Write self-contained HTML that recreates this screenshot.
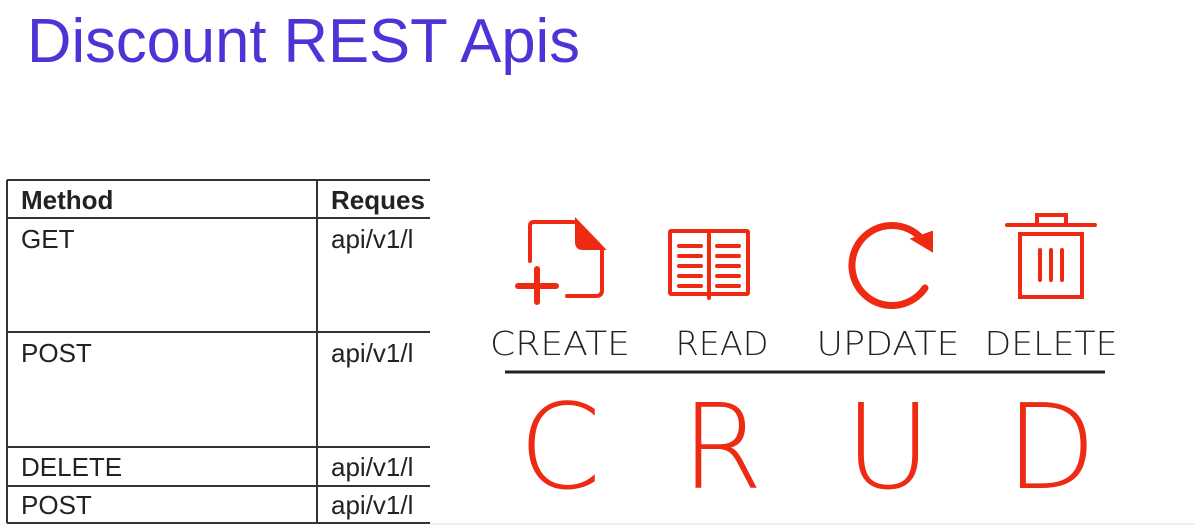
<!DOCTYPE html>
<html><head><meta charset="utf-8"><style>
html,body{margin:0;padding:0;background:#fff;width:1195px;height:531px;overflow:hidden}
</style></head><body>
<svg width="1195" height="531" viewBox="0 0 1195 531" xmlns="http://www.w3.org/2000/svg">
<rect width="1195" height="531" fill="#fff"/>
<text x="27" y="62" font-family="Liberation Sans, sans-serif" font-size="62" fill="#4f33d6" textLength="553" lengthAdjust="spacingAndGlyphs">Discount REST Apis</text>
<g stroke="#333" stroke-width="2" fill="none">
<line x1="7" y1="180" x2="430" y2="180"/>
<line x1="7" y1="218" x2="430" y2="218"/>
<line x1="7" y1="332" x2="430" y2="332"/>
<line x1="7" y1="447" x2="430" y2="447"/>
<line x1="7" y1="486" x2="430" y2="486"/>
<line x1="7" y1="523" x2="430" y2="523"/>
<line x1="7" y1="180" x2="7" y2="523"/>
<line x1="317" y1="180" x2="317" y2="523"/>
</g>
<g font-family="Liberation Sans, sans-serif" font-size="26" fill="#222">
<text x="21" y="209" font-weight="bold">Method</text>
<text x="331" y="209" font-weight="bold">Reques</text>
<text x="21" y="248">GET</text>
<text x="331" y="248">api/v1/l</text>
<text x="21" y="362">POST</text>
<text x="331" y="362">api/v1/l</text>
<text x="21" y="476">DELETE</text>
<text x="331" y="476">api/v1/l</text>
<text x="21" y="514">POST</text>
<text x="331" y="514">api/v1/l</text>
</g>
<rect x="430" y="170" width="765" height="353" fill="#fff"/>
<line x1="430" y1="524" x2="1195" y2="524" stroke="#ddd" stroke-width="1"/>
<g stroke="#ee2a12" stroke-width="4" fill="none" stroke-linecap="round">
<path d="M530 261 V226 q0-4 4-4 H577 L602 248 V290 q0 6-6 6 H567"/>
<path d="M577 222 V242 q0 6 6 6 H602 Z" fill="#ee2a12"/>
<path d="M518 286 H556 M537 269 V302" stroke-width="6"/>
<rect x="670" y="231" width="78" height="63" rx="1"/>
<line x1="709" y1="234" x2="709" y2="298"/>
<path d="M679 246 H701 M679 256 H701 M679 266 H701 M679 276 H701 M679 286 H701 M717 246 H739 M717 256 H739 M717 266 H739 M717 276 H739 M717 286 H739" stroke-width="4"/>
<path d="M925 288 A40 40 0 1 1 921 238" stroke-width="7"/>
<path d="M912 239 L932 232 L932 251 Z" fill="#ee2a12" stroke-width="2"/>
<path d="M1007 225 H1095 M1037 225 V215 H1066 V225"/>
<rect x="1020" y="234" width="62" height="63"/>
<path d="M1040 250 V280 M1051 250 V280 M1062 250 V280"/>
</g>
<g font-family="DejaVu Sans, Liberation Sans, sans-serif" font-weight="200" font-size="33" fill="#222" text-anchor="middle">
<text x="560" y="355" textLength="140" lengthAdjust="spacingAndGlyphs">CREATE</text>
<text x="722" y="355" textLength="93" lengthAdjust="spacingAndGlyphs">READ</text>
<text x="888" y="355" textLength="143" lengthAdjust="spacingAndGlyphs">UPDATE</text>
<text x="1051" y="355" textLength="133" lengthAdjust="spacingAndGlyphs">DELETE</text>
</g>
<line x1="505" y1="372" x2="1105" y2="372" stroke="#222" stroke-width="3"/>
<g font-family="DejaVu Sans, Liberation Sans, sans-serif" font-weight="200" font-size="118" fill="#ee2a12" text-anchor="middle">
<text x="560" y="488">C</text>
<text x="722" y="488">R</text>
<text x="888" y="488">U</text>
<text x="1051" y="488">D</text>
</g>
</svg>
</body></html>
